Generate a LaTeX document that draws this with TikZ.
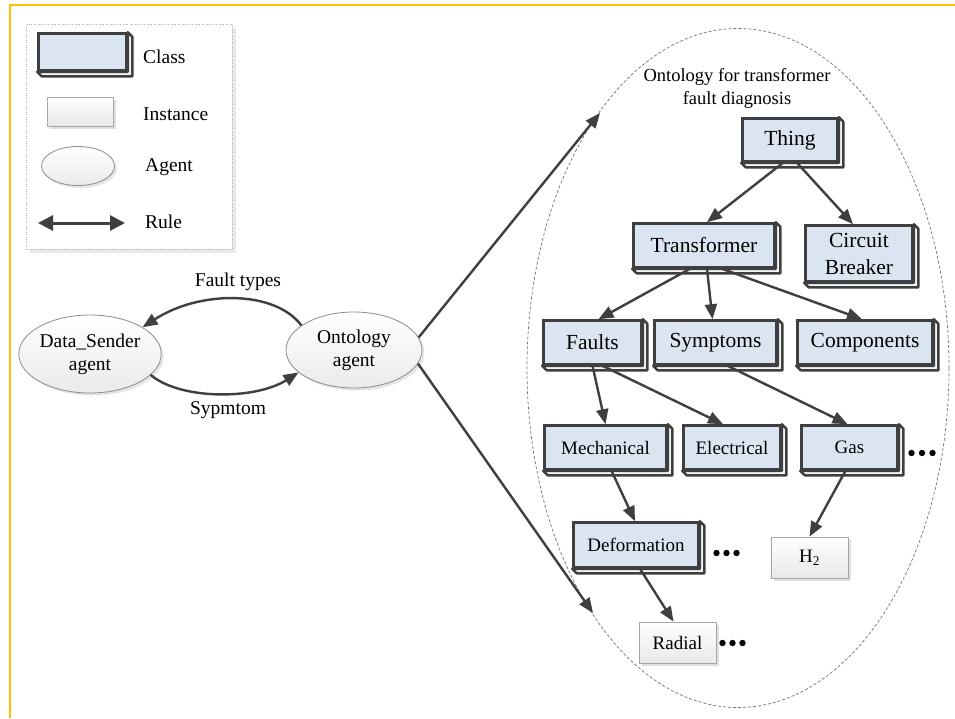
\documentclass[tikz,border=0pt]{standalone}
\usepackage{fontspec}
\setmainfont{Liberation Serif}
\usetikzlibrary{arrows.meta,shapes.geometric,shadows}

\definecolor{linec}{HTML}{3F3F3F}
\definecolor{classfill}{HTML}{DBE5F1}
\definecolor{framey}{HTML}{FFC000}
\definecolor{agentb}{HTML}{8C8C8C}
\definecolor{instb}{HTML}{A6A6A6}

\tikzset{
  classbox/.style={draw=linec, line width=2.6pt, fill=classfill, inner sep=0pt,
    align=center, font=\fontsize{21.5}{27}\selectfont},
  smallclass/.style={classbox, font=\fontsize{19}{23}\selectfont},
  extrusion/.style={draw=linec, line width=2.4pt, fill=classfill!35!white, line join=round},
  instbox/.style={draw=instb, line width=0.8pt, top color=white, bottom color=black!9,
    inner sep=0pt, font=\fontsize{19}{23}\selectfont,
    general shadow={shadow xshift=2.5pt, shadow yshift=-2.5pt, fill=black!12}},
  agent/.style={ellipse, draw=agentb, line width=0.8pt, top color=white, bottom color=black!8,
    inner sep=0pt, align=center, font=\fontsize{19.5}{23}\selectfont,
    general shadow={shadow xshift=2.5pt, shadow yshift=-2.5pt, fill=black!10}},
  lbl/.style={inner sep=0pt, align=center, font=\fontsize{19.5}{23}\selectfont},
  arr/.style={draw=linec, line width=2.4pt, -{Triangle[length=15pt,width=12pt]}},
  rulearr/.style={draw=linec, line width=3pt,
    {Triangle[length=15pt,width=15pt]}-{Triangle[length=15pt,width=15pt]}},
  dot/.style={fill=black}
}

\begin{document}
\begin{tikzpicture}[x=1pt,y=-1pt]
\useasboundingbox (0,0) rectangle (955,718);
\fill[white] (0,0) rectangle (955,718);

% frame lines along the top and left
\draw[framey, line width=1.6pt] (10,718) -- (10,5) -- (955,5);

% legend panel
\fill[black!9] (30,28) rectangle (236,253);
\node[draw=black!30, dotted, fill=white, minimum width=206pt, minimum height=225pt,
  inner sep=0pt] (legend) at (129,136.5) {};
\node[classbox, minimum width=88pt, minimum height=37pt] (lgclass) at (82.5,52) {};
\node[lbl, anchor=west] (lgclasst) at (143,57) {Class};
\node[instbox, minimum width=66pt, minimum height=29pt] (lginst) at (80,111.5) {};
\node[lbl, anchor=west] (lginstt) at (143,114) {Instance};
\node[agent, minimum width=73pt, minimum height=39pt] (lgagent) at (78,166) {};
\node[lbl, anchor=west] (lgagentt) at (145,167) {Agent};
\coordinate (ruleL) at (38,223);
\coordinate (ruleR) at (125,223);
\draw[rulearr] (ruleL) -- (ruleR);
\node[lbl, anchor=west] (lgrulet) at (145,222) {Rule};

% agents
\node[agent, minimum width=136pt, minimum height=78pt] (sender) at (90,354) {Data\_Sender\\agent};
\node[agent, minimum width=136pt, minimum height=76pt] (onto) at (354,350) {Ontology\\agent};

\draw[arr] (onto.155) .. controls (275,290) and (200,290) .. (sender.27);
\draw[arr] (sender.-19) .. controls (180,400) and (255,400) .. (onto.-158);
\node[lbl] (ftypes) at (238,282) {Fault types};
\node[lbl] (symlbl) at (228,410) {Sypmtom};

% ontology region
\node[ellipse, draw=black!55, dashed, dash pattern=on 3pt off 2pt, line width=0.7pt,
  minimum width=422pt, minimum height=679pt, inner sep=0pt] (region) at (738,368) {};
\node[lbl, font=\fontsize{18.5}{23}\selectfont] (title) at (737,88)
  {Ontology for transformer\\fault diagnosis};

\coordinate (otop) at (600,113);
\coordinate (obot) at (593,613);
\draw[arr] (onto.11) -- (otop);
\draw[arr] (onto.-12) -- (obot);

% class hierarchy
\node[classbox, minimum width=95pt, minimum height=43pt] (thing) at (790,140) {Thing};
\node[classbox, minimum width=141pt, minimum height=44pt] (transformer) at (704,245.5) {Transformer};
\node[classbox, minimum width=107pt, minimum height=56pt] (breaker) at (859,253.5) {Circuit\\Breaker};
\node[classbox, minimum width=98pt, minimum height=44pt] (faults) at (592.5,342.5) {Faults};
\node[classbox, minimum width=122pt, minimum height=44pt] (symptoms) at (715.5,342.5) {Symptoms};
\node[classbox, minimum width=135pt, minimum height=44pt] (components) at (865,342.5) {Components};
\node[smallclass, minimum width=122pt, minimum height=44pt] (mechanical) at (605.5,447.5) {Mechanical};
\node[smallclass, minimum width=97pt, minimum height=44pt] (electrical) at (732,447.5) {Electrical};
\node[smallclass, minimum width=96pt, minimum height=44pt] (gas) at (849.5,447.5) {Gas};
\node[smallclass, minimum width=125pt, minimum height=45pt] (deformation) at (636,545) {Deformation};
\node[instbox, minimum width=77pt, minimum height=41pt] (htwo) at (809.5,557.5) {H\textsubscript{2}};
\node[instbox, minimum width=77pt, minimum height=41pt] (radial) at (677.5,642.5) {Radial};

% 3-D side and bottom faces of the class boxes
\foreach \n in {lgclass,thing,transformer,breaker,faults,symptoms,components,
                mechanical,electrical,gas,deformation}
  \draw[extrusion] (\n.north east) -- ++(4.5pt,-4.5pt)
    -- ([shift={(4.5pt,-4.5pt)}]\n.south east)
    -- ([shift={(4.5pt,-4.5pt)}]\n.south west)
    -- (\n.south west) -- (\n.south east) -- cycle;

\draw[arr] ([xshift=-7pt]thing.south) -- ([xshift=3pt]transformer.north);
\draw[arr] ([xshift=7pt]thing.south) -- ([xshift=-6pt]breaker.north);
\draw[arr] ([xshift=-14pt]transformer.south) -- ([xshift=6pt]faults.north);
\draw[arr] ([xshift=3pt]transformer.south) -- ([xshift=-3pt]symptoms.north);
\draw[arr] ([xshift=18pt]transformer.south) -- ([xshift=-3pt]components.north);
\draw[arr] (faults.south) -- (mechanical.north);
\draw[arr] ([xshift=10pt]faults.south) -- ([xshift=-9pt]electrical.north);
\draw[arr] ([xshift=12pt]symptoms.south) -- ([xshift=-2pt]gas.north);
\draw[arr] ([xshift=6pt]mechanical.south) -- ([xshift=-1pt]deformation.north);
\draw[arr] ([xshift=4pt]deformation.south) -- ([xshift=-4pt]radial.north);
\draw[arr] ([xshift=-4pt]gas.south) -- (htwo.north);

% continuation marks
\foreach \x in {911.5,922,932.5} \fill[dot] (\x,453) circle (3.2pt);
\foreach \x in {716.5,726.5,736.5} \fill[dot] (\x,553) circle (3.2pt);
\foreach \x in {722.5,732.5,742.5} \fill[dot] (\x,643) circle (3.2pt);
\end{tikzpicture}
\end{document}
